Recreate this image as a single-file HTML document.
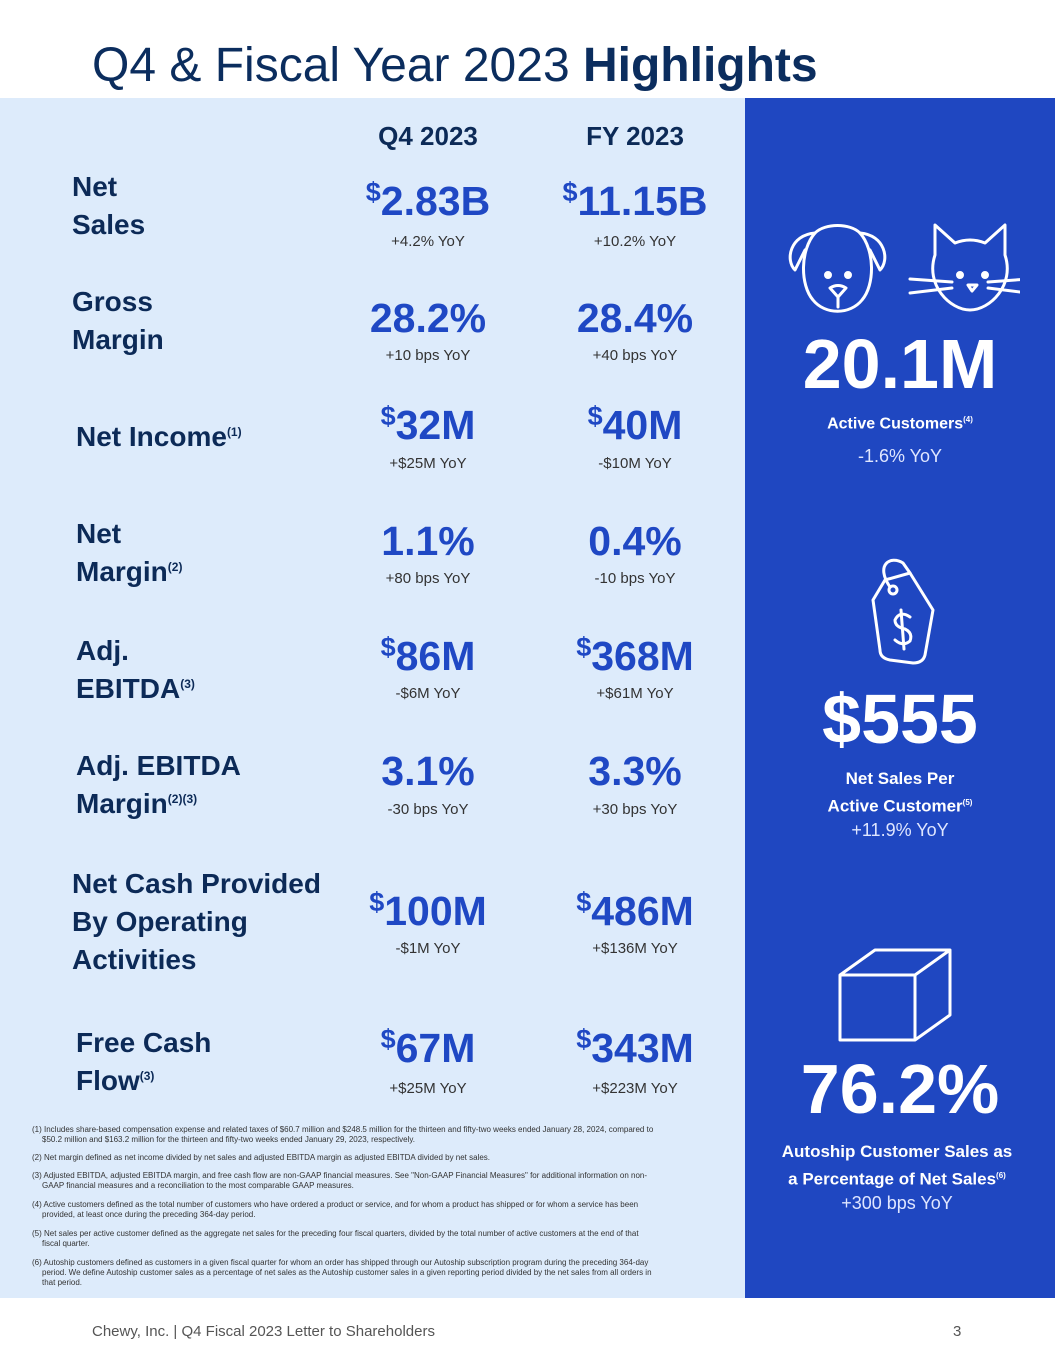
<!DOCTYPE html>
<html><head><meta charset="utf-8"><style>
body{margin:0;width:1055px;height:1365px;position:relative;background:#fff;font-family:"Liberation Sans",sans-serif;overflow:hidden}
.a{position:absolute;line-height:1;white-space:nowrap}
.lbl{font-weight:bold;color:#0c2a57;font-size:28px}
.val{font-weight:bold;color:#1f48c4;font-size:41px;transform:translateX(-50%)}
.val sup{font-size:27px;vertical-align:0;position:relative;top:-14px}
.yoy{font-size:15px;color:#333;transform:translateX(-50%)}
.lbl sup{font-size:12px;position:relative;top:-10px;vertical-align:0}
.r{color:#fff;transform:translateX(-50%);text-align:center}
.fn{font-size:8px;color:#333;position:absolute;left:32px;width:615px;line-height:10px;padding-left:10px;text-indent:-10px}
</style></head><body>
<div class="a" style="left:92px;top:42px;font-size:48px;color:#0b2d5e">Q4 &amp; Fiscal Year 2023 <b>Highlights</b></div>
<div style="position:absolute;left:0;top:98px;width:745px;height:1200px;background:#ddebfb"></div>
<div style="position:absolute;left:745px;top:98px;width:310px;height:1200px;background:#1f47c1"></div>
<div class="a" style="left:428px;top:123px;font-size:26px;font-weight:bold;color:#0c2a57;transform:translateX(-50%)">Q4 2023</div>
<div class="a" style="left:635px;top:123px;font-size:26px;font-weight:bold;color:#0c2a57;transform:translateX(-50%)">FY 2023</div>
<div id="rows"></div>
<svg style="position:absolute;left:780px;top:215px" width="240" height="100" viewBox="0 0 240 100" fill="none" stroke="#fff" stroke-width="3" stroke-linecap="round" stroke-linejoin="round">
<path d="M35 18 C10 20 5 45 15 55 L25 35 M80 18 C105 20 110 45 100 55 L90 35"/>
<path d="M35 18 C45 8 70 8 80 18 C95 35 95 70 82 85 C70 100 45 100 33 85 C20 70 20 35 35 18Z"/>
<circle cx="48" cy="60" r="2.5" fill="#fff"/><circle cx="68" cy="60" r="2.5" fill="#fff"/>
<path d="M50 73 Q58 68 66 73 L58 82 Z M58 82 L58 92"/>
<path d="M155 30 L155 10 L175 28 Q190 22 205 28 L225 10 L225 40 C235 70 210 95 190 95 C170 95 145 70 155 40 Z"/>
<circle cx="180" cy="60" r="2.5" fill="#fff"/><circle cx="205" cy="60" r="2.5" fill="#fff"/>
<path d="M188 70 L197 70 L192 76Z M130 64 L172 67 M130 78 L172 73 M208 67 L248 64 M208 73 L248 78"/>
</svg>
<svg style="position:absolute;left:855px;top:555px" width="90" height="115" viewBox="0 0 90 115" fill="none" stroke="#fff" stroke-width="3" stroke-linecap="round" stroke-linejoin="round">
<path d="M30 25 L55 18 L78 55 L70 100 Q68 108 58 108 L35 105 Q25 103 25 95 L18 45 Z"/>
<circle cx="38" cy="35" r="4"/><path d="M35 32 C20 10 35 0 48 8 L55 18"/>
<path d="M55 62 Q45 55 40 65 Q40 72 50 74 Q58 78 55 86 Q48 92 40 85 M46 55 L49 94"/>
</svg>
<svg style="position:absolute;left:835px;top:945px" width="120" height="100" viewBox="0 0 120 100" fill="none" stroke="#fff" stroke-width="3" stroke-linejoin="round">
<path d="M5 30 L40 5 L115 5 L80 30 Z M5 30 L5 95 L80 95 L80 30 M80 95 L115 70 L115 5"/>
</svg>
<div class="a r" style="left:900px;top:329px;font-size:70px;font-weight:bold">20.1M</div>
<div class="a r" style="left:900px;top:416px;font-size:16px;font-weight:bold">Active Customers<sup style="font-size:8px">(4)</sup></div>
<div class="a r" style="left:900px;top:447px;font-size:18px;color:#dfe6ff">-1.6% YoY</div>
<div class="a r" style="left:900px;top:684px;font-size:70px;font-weight:bold">$555</div>
<div class="a r" style="left:900px;top:767px;font-size:17px;font-weight:bold;line-height:24px">Net Sales Per<br>Active Customer<sup style="font-size:8px">(5)</sup></div>
<div class="a r" style="left:900px;top:821px;font-size:18px;color:#dfe6ff">+11.9% YoY</div>
<div class="a r" style="left:900px;top:1054px;font-size:70px;font-weight:bold">76.2%</div>
<div class="a r" style="left:897px;top:1140px;font-size:17px;font-weight:bold;line-height:24px">Autoship Customer Sales as<br>a Percentage of Net Sales<sup style="font-size:8px">(6)</sup></div>
<div class="a r" style="left:897px;top:1194px;font-size:18px;color:#dfe6ff">+300 bps YoY</div>
<div>
<div class="fn" style="top:1125px">(1) Includes share-based compensation expense and related taxes of $60.7 million and $248.5 million for the thirteen and fifty-two weeks ended January 28, 2024, compared to $50.2 million and $163.2 million for the thirteen and fifty-two weeks ended January 29, 2023, respectively.</div>
<div class="fn" style="top:1153px">(2) Net margin defined as net income divided by net sales and adjusted EBITDA margin as adjusted EBITDA divided by net sales.</div>
<div class="fn" style="top:1171px">(3) Adjusted EBITDA, adjusted EBITDA margin, and free cash flow are non-GAAP financial measures. See "Non-GAAP Financial Measures" for additional information on non-GAAP financial measures and a reconciliation to the most comparable GAAP measures.</div>
<div class="fn" style="top:1200px">(4) Active customers defined as the total number of customers who have ordered a product or service, and for whom a product has shipped or for whom a service has been provided, at least once during the preceding 364-day period.</div>
<div class="fn" style="top:1229px">(5) Net sales per active customer defined as the aggregate net sales for the preceding four fiscal quarters, divided by the total number of active customers at the end of that fiscal quarter.</div>
<div class="fn" style="top:1258px">(6) Autoship customers defined as customers in a given fiscal quarter for whom an order has shipped through our Autoship subscription program during the preceding 364-day period. We define Autoship customer sales as a percentage of net sales as the Autoship customer sales in a given reporting period divided by the net sales from all orders in that period.</div>
</div>
<div class="a" style="left:92px;top:1324px;font-size:15px;color:#555">Chewy, Inc. | Q4 Fiscal 2023 Letter to Shareholders</div>
<div class="a" style="left:953px;top:1324px;font-size:15px;color:#555">3</div>
<script>
const labels=[["Net","Sales"],["Gross","Margin"],["Net Income<sup>(1)</sup>"],["Net","Margin<sup>(2)</sup>"],["Adj.","EBITDA<sup>(3)</sup>"],["Adj. EBITDA","Margin<sup>(2)(3)</sup>"],["Net Cash Provided","By Operating","Activities"],["Free Cash","Flow<sup>(3)</sup>"]];
const q4Values=["<sup>$</sup>2.83B","28.2%","<sup>$</sup>32M","1.1%","<sup>$</sup>86M","3.1%","<sup>$</sup>100M","<sup>$</sup>67M"];
const fyValues=["<sup>$</sup>11.15B","28.4%","<sup>$</sup>40M","0.4%","<sup>$</sup>368M","3.3%","<sup>$</sup>486M","<sup>$</sup>343M"];
const q4Yoy=["+4.2% YoY","+10 bps YoY","+$25M YoY","+80 bps YoY","-$6M YoY","-30 bps YoY","-$1M YoY","+$25M YoY"];
const fyYoy=["+10.2% YoY","+40 bps YoY","-$10M YoY","-10 bps YoY","+$61M YoY","+30 bps YoY","+$136M YoY","+$223M YoY"];
const labelX=[72,72,76,76,76,76,72,76];
const labelBase=[196,311,446,543,660,775,893,1052];
const valBase=[215,332,439,555,670,785,925,1062];
const yoyBase=[246,360,468,583,698,814,953,1093];
const root=document.getElementById('rows');
function mk(cls,html,x,top,name){const d=document.createElement('div');d.className='a '+cls;d.innerHTML=html;d.style.left=x+'px';d.style.top=top+'px';


root.appendChild(d);}
labels.forEach((l,i)=>{
const dv=document.createElement('div');dv.className='a lbl';dv.style.left=labelX[i]+'px';dv.style.lineHeight='38px';dv.style.top=(labelBase[i]-28)+'px';dv.innerHTML=l.join('<br>');


root.appendChild(dv);
mk('val',q4Values[i],428,valBase[i]-34,'q4-value');
mk('val',fyValues[i],635,valBase[i]-34,'fy-value');
mk('yoy',q4Yoy[i],428,yoyBase[i]-12,'q4-yoy');
mk('yoy',fyYoy[i],635,yoyBase[i]-12,'fy-yoy');
});
</script>
</body></html>
